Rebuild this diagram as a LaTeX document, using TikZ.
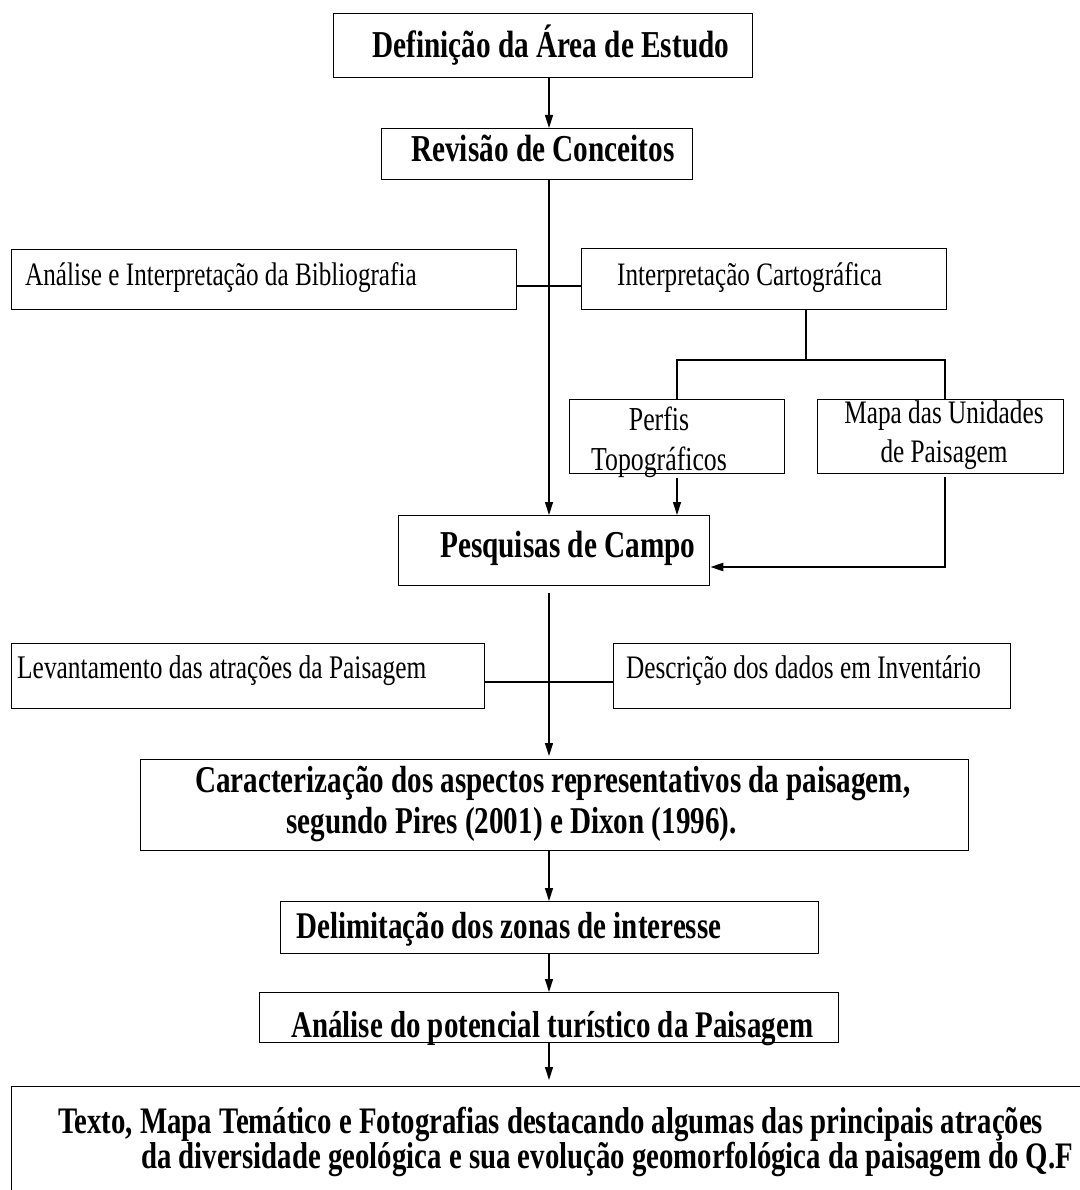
\documentclass[tikz,border=0pt]{standalone}
\usepackage{fontspec}
\usepackage{tikz}
\usetikzlibrary{arrows.meta}
\newfontfamily\flowfont[FakeStretch=0.77]{Liberation Serif}
\tikzset{boldtxt/.style 2 args={font=\flowfont\bfseries\fontsize{#1}{#2}\selectfont},
         plaintxt/.style 2 args={font=\flowfont\fontsize{#1}{#2}\selectfont}}

\begin{document}
\begin{tikzpicture}[x=1pt,y=-1pt,>={Triangle[length=13pt,width=8pt]}]
\useasboundingbox (0,0) rectangle (1079,1190);
 \coordinate (spine) at (549,0);
 \coordinate (perf) at (677,0);
 \coordinate (mapa) at (945,0);
 \coordinate (fork) at (806,360);
 \coordinate (row1) at (0,286);
 \coordinate (row2) at (0,682);
 \coordinate (entry) at (0,567);
 % boxes
 \begin{scope}[every node/.style={draw=black,line width=1.3pt,anchor=north west,inner sep=0pt}]
   \node (b1) [minimum width=419pt,minimum height=64pt] at (333,13) {};
   \node (b2) [minimum width=311pt,minimum height=51pt] at (381,128) {};
   \node (b3) [minimum width=505pt,minimum height=60pt] at (11,249) {};
   \node (b4) [minimum width=365pt,minimum height=61pt] at (581,248) {};
   \node (b5) [minimum width=215pt,minimum height=74pt] at (569,399) {};
   \node (b6) [minimum width=246pt,minimum height=74pt] at (817,399) {};
   \node (b7) [minimum width=311pt,minimum height=70pt] at (398,515) {};
   \node (b8) [minimum width=473pt,minimum height=65pt] at (11,643) {};
   \node (b9) [minimum width=397pt,minimum height=65pt] at (613,643) {};
   \node (b10) [minimum width=828pt,minimum height=91pt] at (140,759) {};
   \node (b11) [minimum width=538pt,minimum height=52pt] at (280,901) {};
   \node (b12) [minimum width=579pt,minimum height=50pt] at (259,992) {};
   \node (b13) [minimum width=1189pt,minimum height=214pt] at (11,1086) {};
 \end{scope}
 % texts (multi-line ones sit on their last baseline)
 \begin{scope}[every node/.style={inner sep=0pt,anchor=base west,align=left}]
   \node (t1) [boldtxt={38}{41}] at (372,58) {Definição da Área de Estudo};
   \node (t2) [boldtxt={38}{41}] at (411,162) {Revisão de Conceitos};
   \node (t3) [plaintxt={32.7}{36}] at (25,285) {Análise e Interpretação da Bibliografia};
   \node (t4) [plaintxt={32.7}{36}] at (617,285) {Interpretação Cartográfica};
   \node (t5) [plaintxt={33.5}{40},anchor=base,align=center] at (659,470) {Perfis\\Topográficos};
   \node (t6) [plaintxt={32.8}{39},anchor=base,align=center] at (944,462) {Mapa das Unidades\\de Paisagem};
   \node (t7) [boldtxt={38}{41}] at (440,557) {Pesquisas de Campo};
   \node (t8) [plaintxt={33}{36}] at (17,678) {Levantamento das atrações da Paisagem};
   \node (t9) [plaintxt={32.8}{36}] at (626,678) {Descrição dos dados em Inventário};
   \node (t10) [boldtxt={37.8}{41}] at (195,833) {Caracterização dos aspectos representativos da paisagem,\\\hspace*{91pt}segundo Pires (2001) e Dixon (1996).};
   \node (t11) [boldtxt={37.7}{39}] at (296,938) {Delimitação dos zonas de interesse};
   \node (t12) [boldtxt={37.6}{39}] at (291,1037) {Análise do potencial turístico da Paisagem};
   \node (t13) [boldtxt={37.4}{35}] at (58,1168) {Texto, Mapa Temático e Fotografias destacando algumas das principais atrações\\\hspace*{83pt}da diversidade geológica e sua evolução geomorfológica da paisagem do Q.F};
 \end{scope}
 % connectors
 \begin{scope}[line width=1.3pt]
   \draw[->] (b1.south -| spine) -- (b2.north -| spine);
   \draw[->] (b2.south -| spine) -- (b7.north -| spine);
   \draw (b3.east |- row1) -- (b4.west |- row1);
   \draw (b4.south -| fork) -- (fork);
   \draw (b5.north -| perf) |- (fork) -| (b6.north -| mapa);
   \draw[->,shorten <=4pt] (b5.south -| perf) -- (b7.north -| perf);
   \draw[->,line width=2.2pt,shorten <=3pt] (b6.south -| mapa) |- (b7.east |- entry);
   \draw[->,shorten <=7pt,shorten >=3pt] (b7.south -| spine) -- (b10.north -| spine);
   \draw (b8.east |- row2) -- (b9.west |- row2);
   \draw[->] (b10.south -| spine) -- (b11.north -| spine);
   \draw[->] (b11.south -| spine) -- (b12.north -| spine);
   \draw[->,shorten >=6pt] (b12.south -| spine) -- (b13.north -| spine);
 \end{scope}
\end{tikzpicture}
\end{document}
